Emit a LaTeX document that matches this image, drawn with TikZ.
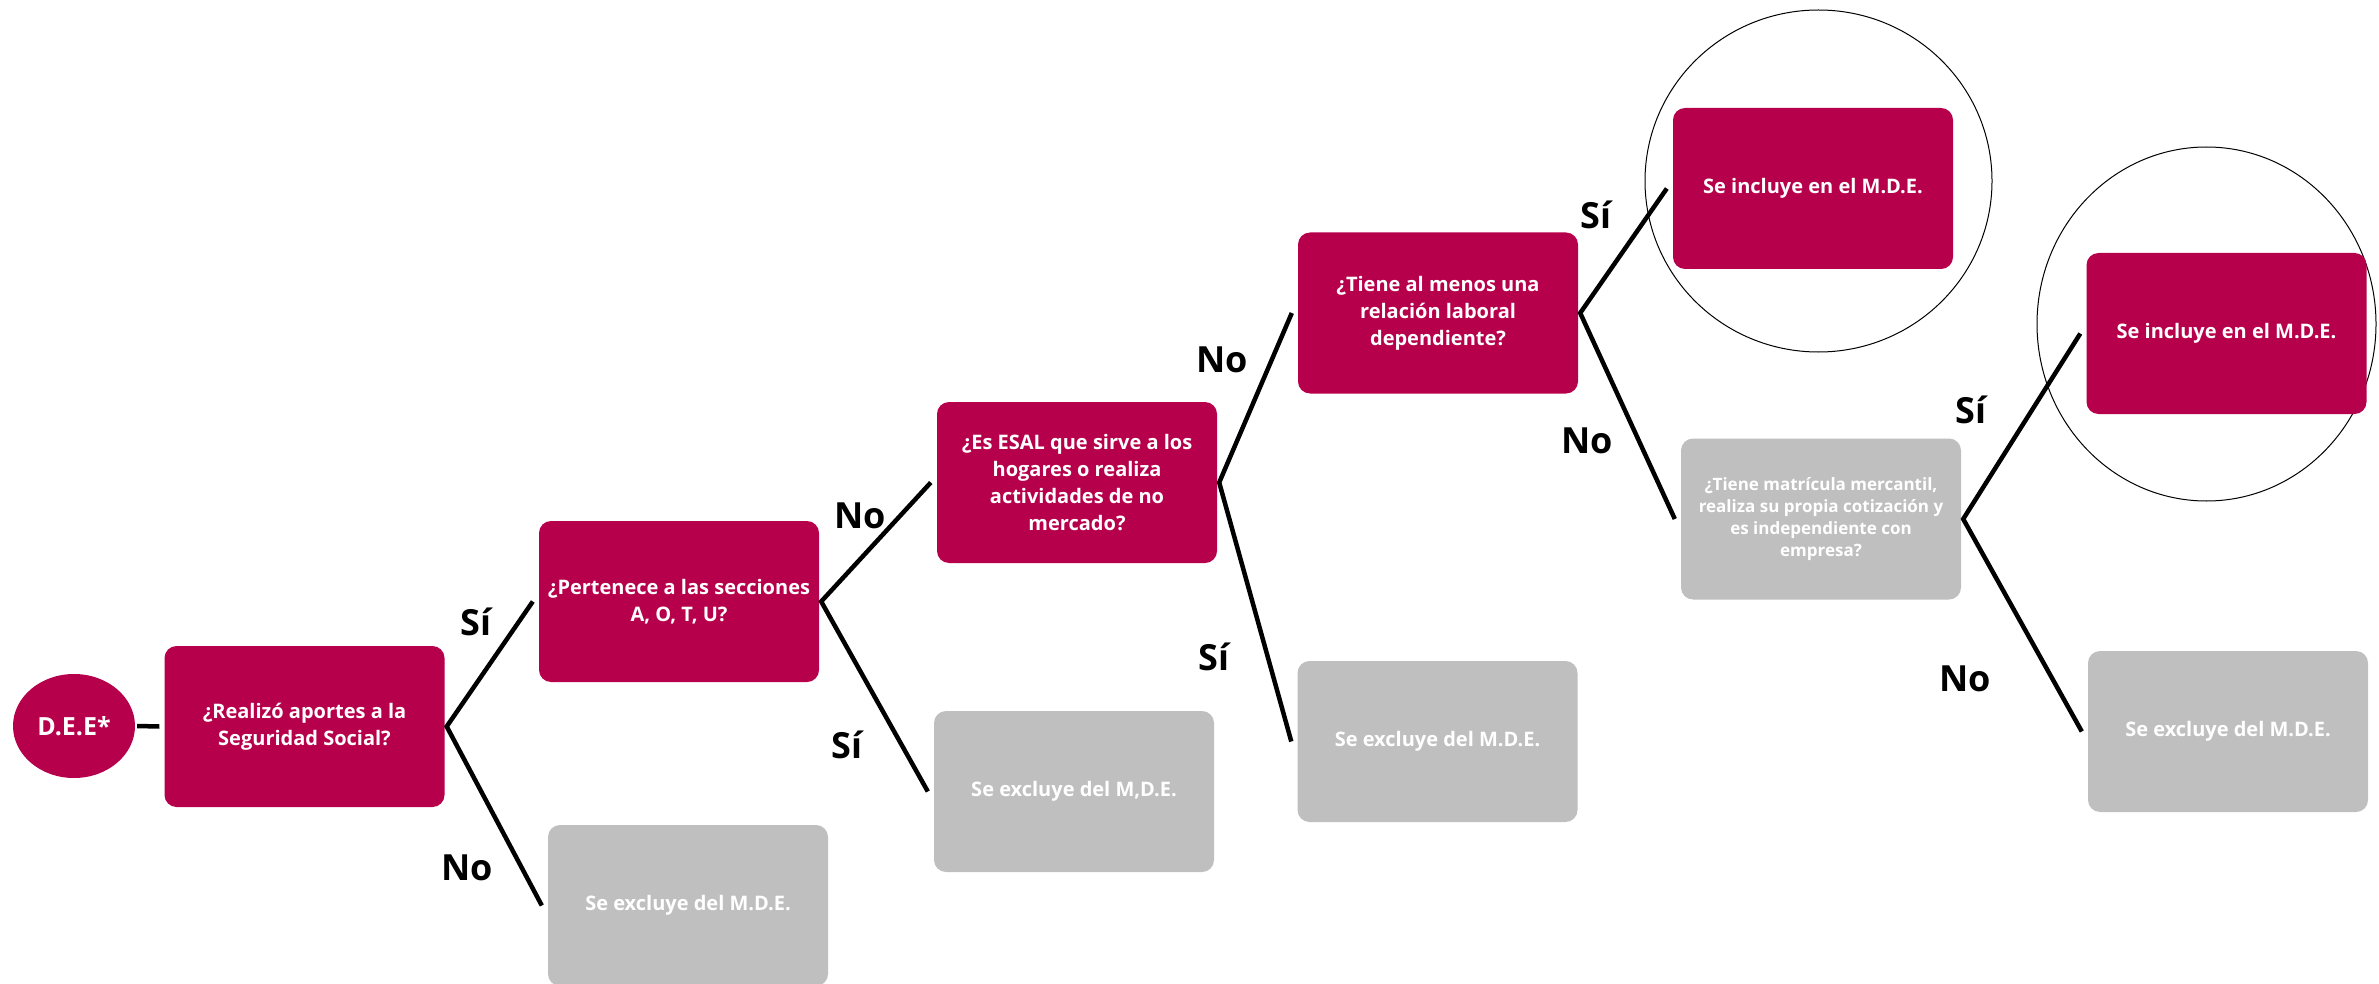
\documentclass[tikz,border=0pt]{standalone}
\usepackage{fontspec}
\setmainfont{Open Sans}
\usetikzlibrary{shapes.geometric}
\definecolor{mdered}{HTML}{B7004B}
\definecolor{mdegray}{HTML}{BFBFBF}
\tikzset{
  qbox/.style={rectangle, rounded corners=12pt, fill=mdered, text=white,
    font=\bfseries\fontsize{20}{27}\selectfont, align=center,
    minimum width=280pt, minimum height=161pt, inner sep=0pt},
  xbox/.style={qbox, fill=mdegray},
  conn/.style={line width=4.5pt},
  ans/.style={font=\bfseries\fontsize{36}{40}\selectfont, inner sep=0pt},
  ring/.style={draw, ellipse, line width=1pt, inner sep=0pt},
}
\begin{document}
\begin{tikzpicture}[x=1pt,y=-1pt]
\useasboundingbox (0,0) rectangle (2379,984);
% rings go first, the boxes sit on top of them
\node[ring, minimum width=347pt, minimum height=342pt] (ring1) at (1818.5,181) {};
\node[ring, minimum width=339pt, minimum height=354pt] (ring2) at (2206.5,324) {};
% start
\node[ellipse, fill=mdered, text=white, font=\bfseries\fontsize{25}{30}\selectfont,
  minimum width=122pt, minimum height=104pt, inner sep=0pt] (dee) at (74,726) {D.E.E*};
% questions
\node[qbox] (q1) at (304.5,726.5) {¿Realizó aportes a la\\Seguridad Social?};
\node[qbox] (q2) at (679,601.5) {¿Pertenece a las secciones\\A, O, T, U?};
\node[qbox] (q3) at (1077,482.5) {¿Es ESAL que sirve a los\\hogares o realiza\\actividades de no\\mercado?};
\node[qbox] (q4) at (1438,313) {¿Tiene al menos una\\relación laboral\\dependiente?};
\node[xbox, font=\bfseries\fontsize{17}{22}\selectfont] (q5) at (1821,519)
  {¿Tiene matrícula mercantil,\\realiza su propia cotización y\\es independiente con\\empresa?};
% outcomes
\node[xbox] (x1) at (688,905.5) {Se excluye del M.D.E.};
\node[xbox] (x2) at (1074,791.5) {Se excluye del M,D.E.};
\node[xbox] (x3) at (1437.5,741.5) {Se excluye del M.D.E.};
\node[xbox] (x4) at (2228,731.5) {Se excluye del M.D.E.};
\node[qbox] (in1) at (1813,188.5) {Se incluye en el M.D.E.};
\node[qbox] (in2) at (2226.5,333.5) {Se incluye en el M.D.E.};
% connectors: upper child -- parent -- lower child
\draw[conn] ([xshift=2pt]dee.east) -- ([xshift=-5pt]q1.west);
\foreach \up/\from/\down in {q2/q1/x1, q3/q2/x2, q4/q3/x3, in1/q4/q5, in2/q5/x4}{
  \draw[conn] ([xshift=-6pt]\up.west) -- ([xshift=2pt]\from.east) -- ([xshift=-6pt]\down.west);
}
% answers
\foreach \ax/\ay/\atext [count=\i] in {476/622/Sí, 467/868/No, 860/516/No, 847/745/Sí,
  1222/360/No, 1214/657/Sí, 1596/215/Sí, 1587/441/No, 1971/410/Sí, 1965/679/No}{
  \node[ans] (ans\i) at (\ax,\ay) {\atext};
}
\end{tikzpicture}
\end{document}
